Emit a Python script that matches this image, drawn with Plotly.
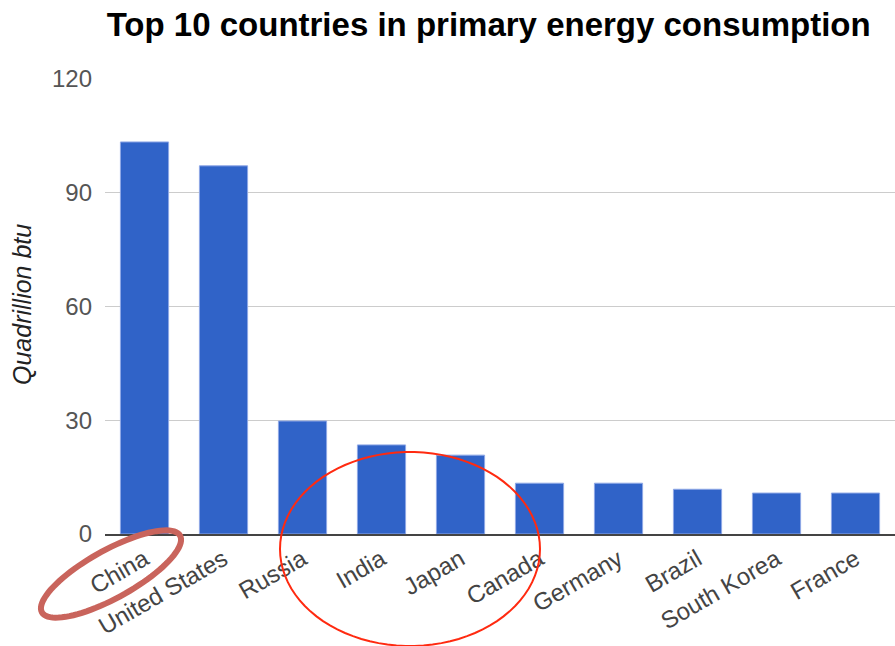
import math
import plotly.graph_objects as go

countries = ["China", "United States", "Russia", "India", "Japan",
             "Canada", "Germany", "Brazil", "South Korea", "France"]
consumption = [103.4, 97.1, 29.8, 23.5, 20.8, 13.4, 13.4, 11.8, 10.8, 10.8]
y_ticks = [0, 30, 60, 90, 120]

W, H = 895, 646
L, R, T, B = 105, 0, 79, 112
plot_w = W - L - R
plot_h = H - T - B


def px_to_paper(x, y):
    return (x - L) / plot_w, (H - B - y) / plot_h


def ellipse_path(cx, cy, rx, ry, angle_deg, n=90):
    a = math.radians(angle_deg)
    pts = []
    for i in range(n + 1):
        t = 2 * math.pi * i / n
        ex, ey = rx * math.cos(t), ry * math.sin(t)
        x = cx + ex * math.cos(a) - ey * math.sin(a)
        y = cy + ex * math.sin(a) + ey * math.cos(a)
        pts.append(px_to_paper(x, y))
    return "M " + " L ".join(f"{px:.5f},{py:.5f}" for px, py in pts) + " Z"


fig = go.Figure(go.Bar(
    x=countries, y=consumption,
    marker=dict(color="#3063c8", line=dict(color="#8fa8e6", width=1)),
    width=0.61,
))

fig.update_layout(
    width=W, height=H,
    margin=dict(l=L, r=R, t=T, b=B),
    plot_bgcolor="white", paper_bgcolor="white",
    font=dict(family="Arial, Liberation Sans, sans-serif", color="#444"),
    title=dict(text="<b>Top 10 countries in primary energy consumption</b>",
               x=0.546, xanchor="center", y=0.962, yanchor="middle",
               font=dict(size=33, color="#000")),
    showlegend=False,
    bargap=0.39,
)
fig.update_yaxes(
    range=[0, 120], tickvals=y_ticks, showgrid=True, gridcolor="#cccccc",
    gridwidth=1, zeroline=False, showline=False, ticks="",
    tickfont=dict(size=24, color="#555"), ticklabelstandoff=12,
)
fig.update_xaxes(
    showline=True, linecolor="#444", linewidth=2, ticks="",
    tickangle=-30, tickfont=dict(size=24, color="#444"),
)

# y-axis title
fig.add_annotation(text="<i>Quadrillion btu</i>", textangle=-90,
                   xref="paper", yref="paper",
                   x=(22 - L) / plot_w, y=(H - B - 305) / plot_h,
                   xanchor="center", yanchor="middle", showarrow=False,
                   font=dict(size=25, color="#222"))

# highlight ellipses drawn over the axis labels
fig.add_shape(type="path", xref="paper", yref="paper",
              path=ellipse_path(111, 574, 79, 24, -29),
              line=dict(color="#c9645c", width=6))
fig.add_shape(type="path", xref="paper", yref="paper",
              path=ellipse_path(410, 549, 130, 97, 0),
              line=dict(color="#ff2a10", width=2))

fig.write_html("out.html")
